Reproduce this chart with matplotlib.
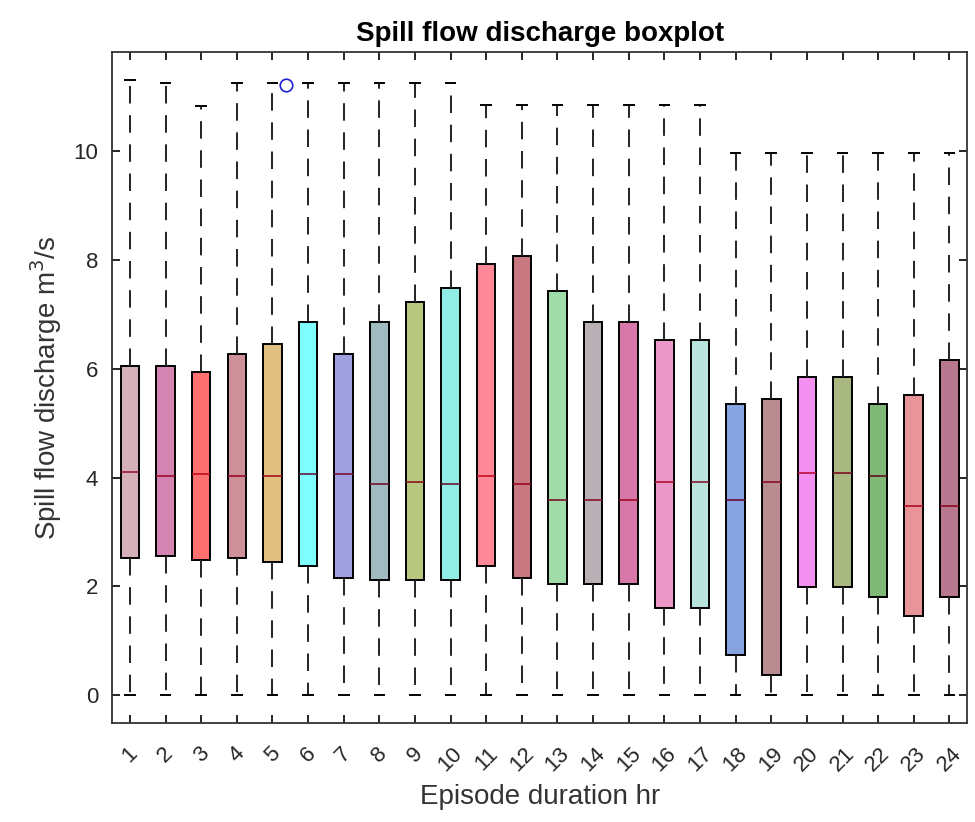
import matplotlib
matplotlib.use("Agg")
import matplotlib.pyplot as plt
import matplotlib.colors as mcolors

plt.rcParams['font.family'] = ['Liberation Sans', 'DejaVu Sans']

# episode duration (hr) and the box statistics of spill flow discharge (m3/s)
hours = list(range(1, 25))
q1 = [2.52, 2.55, 2.48, 2.52, 2.45, 2.37, 2.15, 2.12, 2.12, 2.12, 2.37, 2.15,
      2.04, 2.04, 2.04, 1.61, 1.61, 0.74, 0.37, 1.98, 1.98, 1.80, 1.46, 1.80]
medians = [4.11, 4.02, 4.06, 4.02, 4.02, 4.06, 4.06, 3.88, 3.92, 3.88, 4.02, 3.88,
           3.58, 3.58, 3.58, 3.92, 3.92, 3.58, 3.92, 4.09, 4.09, 4.02, 3.48, 3.48]
q3 = [6.06, 6.06, 5.95, 6.27, 6.46, 6.86, 6.27, 6.86, 7.23, 7.48, 7.93, 8.08,
      7.44, 6.87, 6.87, 6.53, 6.53, 5.36, 5.44, 5.85, 5.85, 5.36, 5.52, 6.17]
whisk_lo = [0.0] * 24
whisk_hi = [11.32, 11.26, 10.84, 11.26, 11.26, 11.26, 11.26, 11.26, 11.26, 11.26,
            10.85, 10.85, 10.85, 10.85, 10.85, 10.85, 10.85,
            9.96, 9.96, 9.96, 9.96, 9.96, 9.96, 9.96]
outlier_x = [5.37]
outlier_y = [11.22]

box_colors = ['#d4b0b8', '#d484b0', '#ff7070', '#cc9098', '#e0c080', '#80ffff',
              '#a0a0e0', '#a0bcc0', '#b8c880', '#90ece4', '#ff8898', '#c87880',
              '#a0dca8', '#b8b0b4', '#d878a8', '#ec98c8', '#b8e4dc', '#88a4e0',
              '#b88c90', '#f490f0', '#a8b880', '#80b878', '#e89498', '#b87890']

stats = []
for h, a, m, b, lo, hi in zip(hours, q1, medians, q3, whisk_lo, whisk_hi):
    stats.append({'label': str(h), 'q1': a, 'med': m, 'q3': b,
                  'whislo': lo, 'whishi': hi, 'fliers': []})

fig = plt.figure(figsize=(9.75, 8.22), dpi=100)
ax = fig.add_axes([0.115, 0.120, 0.877, 0.817])

bp = ax.bxp(stats, positions=hours, widths=0.52, capwidths=0.27,
            patch_artist=True, showfliers=False,
            boxprops=dict(edgecolor='black', linewidth=1.4),
            whiskerprops=dict(color='#222222', linewidth=1.4, linestyle=(0, (9, 6))),
            capprops=dict(color='black', linewidth=1.4),
            medianprops=dict(linewidth=1.2))

for patch, med, c in zip(bp['boxes'], bp['medians'], box_colors):
    patch.set_facecolor(c)
    r, g, b = mcolors.to_rgb(c)
    med.set_color((r * 0.75, g * 0.1, b * 0.25))

ax.plot(outlier_x, outlier_y, 'o', mfc='none', mec='#2020d0', ms=9, mew=1.2)

ax.set_xlim(0.5, 24.5)
ax.set_ylim(-0.52, 11.83)
ax.set_yticks([0, 2, 4, 6, 8, 10])
ax.set_xticks(hours)
ax.set_xticklabels([str(h) for h in hours], rotation=45, ha='center', fontsize=16,
                   color='#262626')
ax.tick_params(axis='y', labelsize=16, pad=10, labelcolor='#262626')
ax.tick_params(axis='x', pad=14)
ax.tick_params(direction='in', top=True, right=True, length=6, width=1.2)
for s in ax.spines.values():
    s.set_linewidth(1.3)
    s.set_color('#333333')

ax.set_title('Spill flow discharge boxplot', fontsize=20, fontweight='bold', pad=8)
ax.set_xlabel('Episode duration hr', fontsize=20, color='#333333', labelpad=6)
ax.set_ylabel('Spill flow discharge m$^3$/s', fontsize=20, color='#333333', labelpad=7)

fig.savefig('out.png', dpi=100)
